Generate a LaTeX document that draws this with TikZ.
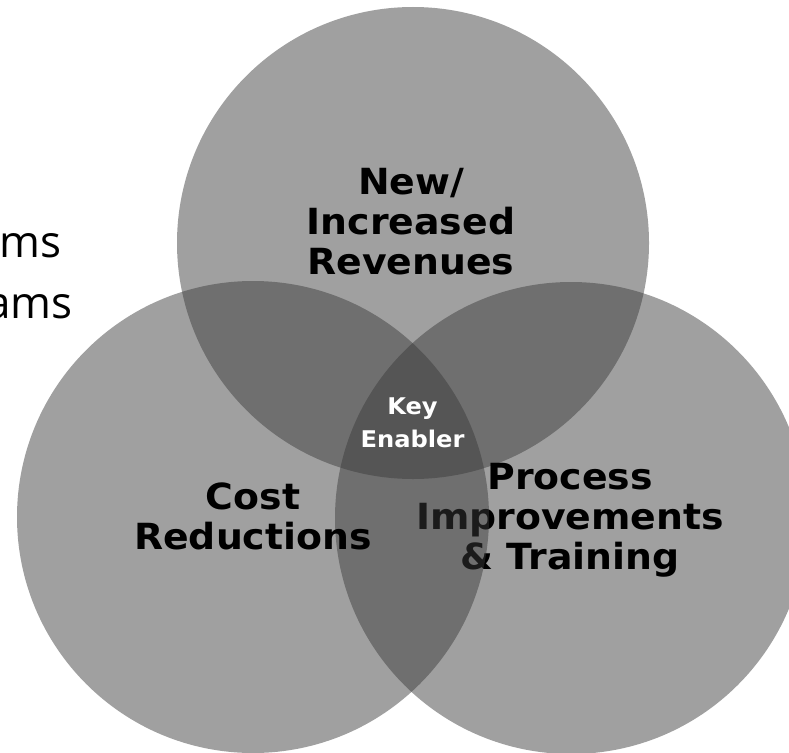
\documentclass[tikz,border=0pt]{standalone}
\usepackage{fontspec}
\newfontfamily\labelfont[FakeStretch=1.05]{DejaVu Sans}
\newfontfamily\sidefont{Open Sans}
\definecolor{setgray}{gray}{0.224}

\begin{document}
\begin{tikzpicture}[x=1pt,y=-1pt,
    set/.style={circle,minimum size=472pt,inner sep=0pt,fill=setgray,fill opacity=0.48},
    setlabel/.style={font=\labelfont\bfseries\fontsize{36}{40}\selectfont,
      align=center,inner sep=0pt,anchor=base},
    keylabel/.style={font=\labelfont\bfseries\fontsize{23}{33}\selectfont,
      align=center,inner sep=0pt,anchor=base,text=white},
    sidetext/.style={font=\sidefont\fontsize{44}{52}\selectfont,inner sep=0pt,anchor=base east}]
  \useasboundingbox (0,0) rectangle (789,752);
  % cut off words at the left
  \node[sidetext] (ms) at (62,257) {ms};
  \node[sidetext] (ams) at (73,318) {ams};
  % the three sets (base = last line)
  \node[set] (revenue) at (413,243) {};
  \node[setlabel] (revenuetext) at (411,274) {New/\\Increased\\Revenues};
  \node[set] (process) at (571,518) {};
  \node[setlabel] (processtext) at (570,569) {Process\\Improvements\\\& Training};
  \node[set] (cost) at (253,517) {};
  \node[setlabel] (costtext) at (253,549) {Cost\\Reductions};
  % middle
  \node[keylabel] (key) at (412.5,447) {Key\\Enabler};
\end{tikzpicture}
\end{document}
